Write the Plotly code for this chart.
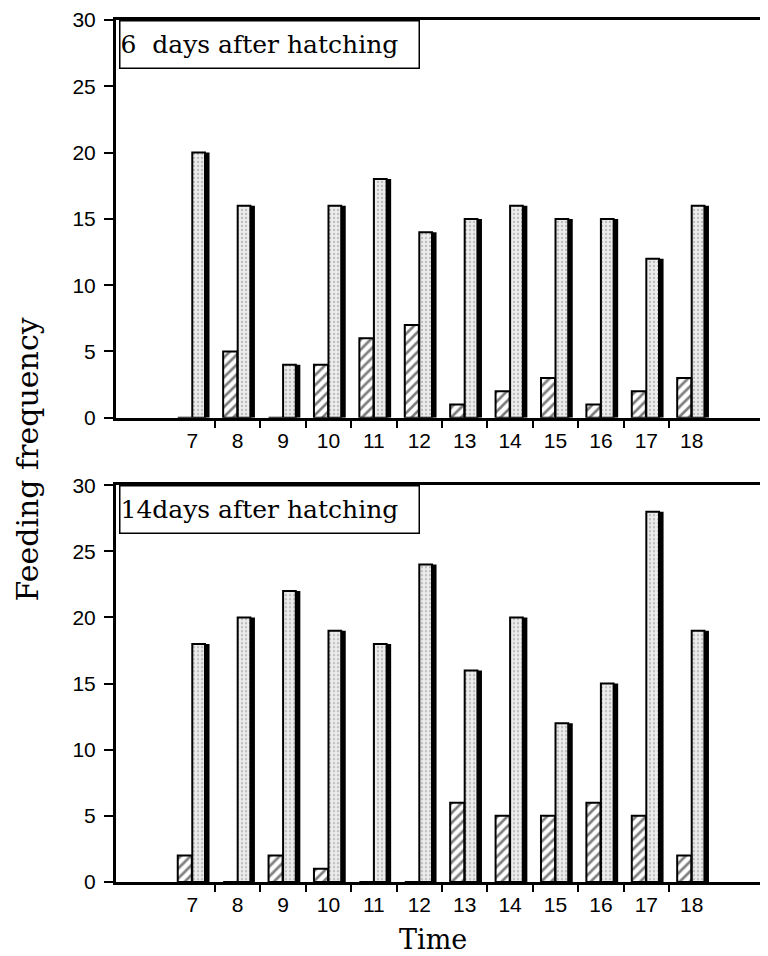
import plotly.graph_objects as go

hours = [7, 8, 9, 10, 11, 12, 13, 14, 15, 16, 17, 18]
hour_labels = [str(h) for h in hours]
d6_hatched = [0, 5, 0, 4, 6, 7, 1, 2, 3, 1, 2, 3]
d6_stippled = [20, 16, 4, 16, 18, 14, 15, 16, 15, 15, 12, 16]
d14_hatched = [2, 0, 2, 1, 0, 0, 6, 5, 5, 6, 5, 2]
d14_stippled = [18, 20, 22, 19, 18, 24, 16, 20, 12, 15, 28, 19]
y_ticks = [0, 5, 10, 15, 20, 25, 30]
panel_titles = ["6  days after hatching", "14days after hatching"]
y_title = "Feeding frequency"
x_title = "Time"

OFF = 8  # page body margin
W, H = 768 - OFF, 956 - OFF
L, R, T, B = 116 - OFF, 0, 13 - OFF, 956 - 882
plot_h = H - T - B


def frac(py):
    # py: page pixel y
    return (H - B - (py - OFF)) / plot_h


def xfrac(px):
    return (px - OFF - L) / (W - L - R)


fig = go.Figure()

panels = [
    ("x", "y", d6_hatched, d6_stippled),
    ("x2", "y2", d14_hatched, d14_stippled),
]
for xa, ya, hatched, stippled in panels:
    # dark "shadow" side of the 3D stippled bars
    fig.add_trace(go.Bar(
        x=hours, y=stippled, xaxis=xa, yaxis=ya, offset=0.0, width=0.38,
        marker=dict(color="black", line=dict(width=0)), showlegend=False,
        hoverinfo="skip"))
    fig.add_trace(go.Bar(
        x=hours, y=stippled, xaxis=xa, yaxis=ya, offset=0.0, width=0.28,
        marker=dict(color="#e6e6e6",
                    pattern=dict(shape=".", fgcolor="#8a8a8a", bgcolor="#ececec",
                                 size=4, solidity=0.25),
                    line=dict(color="black", width=2)),
        showlegend=False))
    fig.add_trace(go.Bar(
        x=hours, y=hatched, xaxis=xa, yaxis=ya, offset=-0.32, width=0.31,
        marker=dict(color="white",
                    pattern=dict(shape="/", fgcolor="black", bgcolor="white",
                                 size=7, solidity=0.38),
                    line=dict(color="black", width=2)),
        showlegend=False))

minor_vals = [h + 0.5 for h in hours[:-1]]
xcommon = dict(
    range=[5.32, 19.68], tickmode="array", tickvals=hours, ticktext=hour_labels,
    ticks="", showline=True, linecolor="black", linewidth=3, mirror=True,
    showgrid=False, zeroline=False, ticklabelstandoff=2,
    tickfont=dict(family="Liberation Sans", size=21, color="black"),
    minor=dict(tickmode="array", tickvals=minor_vals, ticks="outside",
               ticklen=7, tickwidth=2, tickcolor="black", showgrid=False),
)
ycommon = dict(
    range=[0, 30], tickmode="array", tickvals=y_ticks, ticks="outside",
    ticklen=9, tickwidth=1.5, tickcolor="black", showline=True, linecolor="black",
    linewidth=3, showgrid=False, zeroline=False, ticklabelstandoff=4,
    tickfont=dict(family="Liberation Sans", size=21, color="black"),
)

fig.update_layout(
    width=W, height=H, margin=dict(l=L, r=R, t=T, b=B),
    paper_bgcolor="white", plot_bgcolor="white", barmode="overlay",
    xaxis=dict(domain=[0, 1], anchor="y", **xcommon),
    yaxis=dict(domain=[frac(414), 1.0], anchor="x", **ycommon),
    xaxis2=dict(domain=[0, 1], anchor="y2", **xcommon),
    yaxis2=dict(domain=[0.0, frac(482)], anchor="x2", **ycommon),
)

annos = []
for i, (ya, title) in enumerate(zip(["y", "y2"], panel_titles)):
    xa = "x" if i == 0 else "x2"
    annos.append(dict(
        text=title, xref=xa + " domain", yref=ya + " domain", x=0.004, y=1.0,
        xanchor="left", yanchor="top", showarrow=False, align="left",
        width=298, height=46, bordercolor="black", borderwidth=1.5,
        bgcolor="white", borderpad=0,
        font=dict(family="DejaVu Serif", size=25, color="black")))
annos.append(dict(
    text=y_title, xref="paper", yref="paper", x=xfrac(27),
    y=frac(456), textangle=-90, showarrow=False, xanchor="center",
    yanchor="middle", font=dict(family="DejaVu Serif", size=30, color="black")))
annos.append(dict(
    text=x_title, xref="paper", yref="paper", x=xfrac(433),
    y=frac(940), showarrow=False, xanchor="center", yanchor="middle",
    font=dict(family="DejaVu Serif", size=27, color="black")))
fig.update_layout(annotations=annos)

fig.write_html("out.html")
